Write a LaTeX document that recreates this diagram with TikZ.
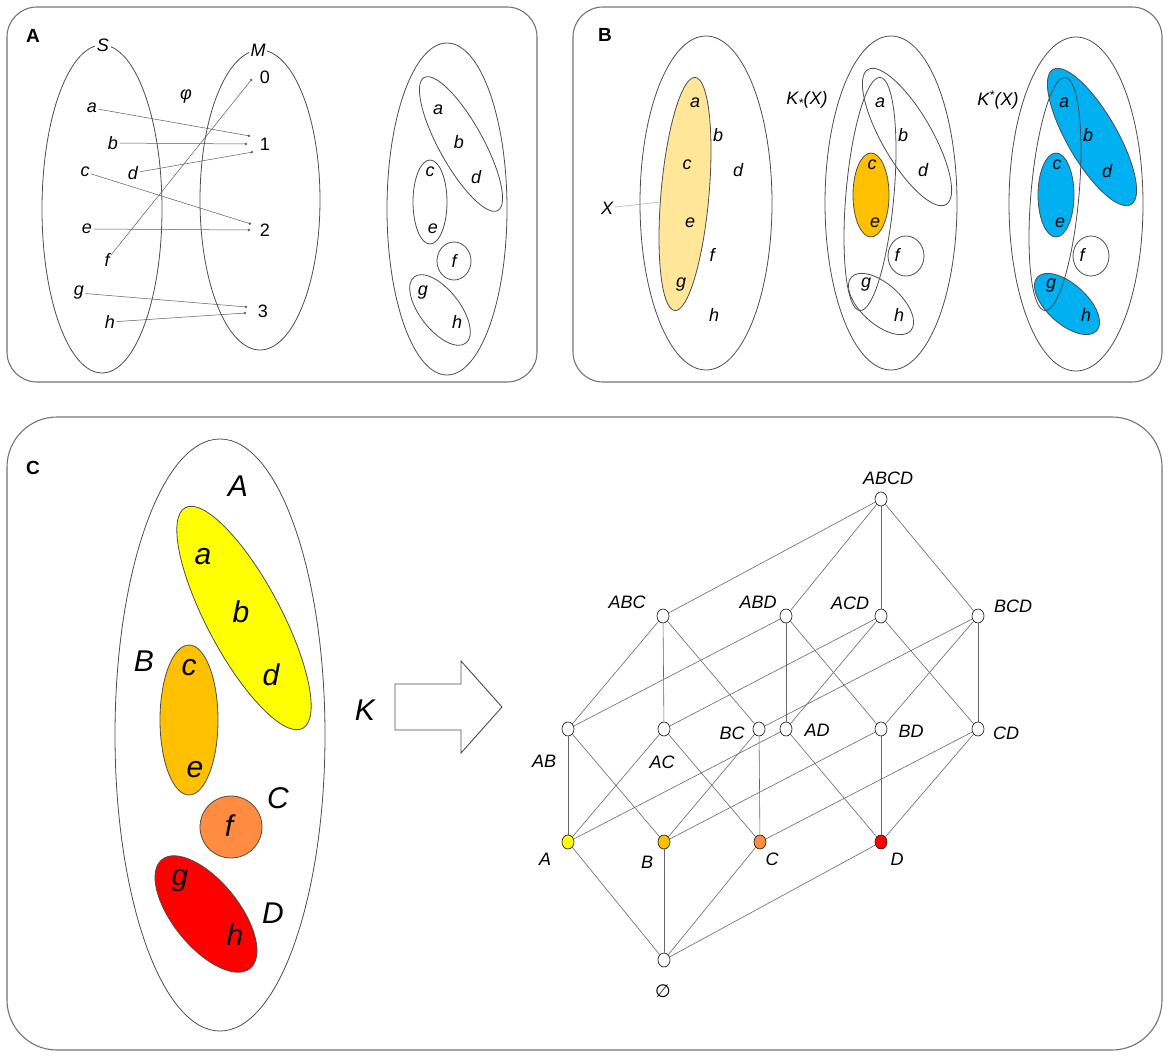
\documentclass[tikz,border=0pt]{standalone}
\usepackage{fontspec}
\setmainfont{Liberation Sans}
\newfontfamily\symfont{DejaVu Sans}
\usepackage{xcolor}
\usepackage{tikz}
\usetikzlibrary{shapes.geometric, arrows.meta}
\definecolor{xfill}{HTML}{FFE699}
\definecolor{lowfill}{HTML}{FFC000}
\definecolor{upfill}{HTML}{00B0F0}
\definecolor{setA}{HTML}{FFFF00}
\definecolor{setB}{HTML}{FFC000}
\definecolor{setC}{HTML}{FF8C40}
\definecolor{setD}{HTML}{FF0000}
\tikzstyle{panel} = [draw=black!55, 
line width=1.1pt, 
rounded corners=30]
\tikzstyle{setline} = [draw=black!70, line width=0.8pt]
\tikzstyle{elem} = [font=\fontsize{18}{21}\selectfont\itshape, 
inner sep=1.5pt]
\tikzstyle{bigelem} = [font=\fontsize{30}{34}\selectfont\itshape, 
inner sep=1pt]
\tikzstyle{lab} = [font=\fontsize{18}{22}\selectfont\itshape, 
inner sep=1pt]
\tikzstyle{num} = [font=\fontsize{18}{21}\selectfont, inner sep=1pt]
\tikzstyle{tag} = [font=\fontsize{19}{22}\selectfont\bfseries]
\tikzstyle{map} = [draw=black!65, line width=0.5pt, -{Circle[length=2.4pt]}]
\tikzstyle{vtx} = [ellipse, 
minimum width=12pt, 
minimum height=14pt, 
inner sep=0pt, 
draw=black!85, 
line width=0.7pt, 
fill=white]
\tikzstyle{edge} = [draw=black!60, line width=0.6pt]

\begin{document}
\begin{tikzpicture}[x=1pt, y=-1pt]
\useasboundingbox (0,0) rectangle (1170,1060);

\draw[panel] (7,7) rectangle (537,382);
\draw[panel] (573,7) rectangle (1162,382);
\draw[panel, rounded corners=50] (7,417) rectangle (1162,1050);
\node[tag] (tagA) at (33,36) {A};
\node[tag] (tagB) at (605,35) {B};
\node[tag] (tagC) at (33,468) {C};

% A: the map from S to M
\draw[setline] (102,209) ellipse [x radius=60, y radius=164];
\draw[setline] (260,200) ellipse [x radius=60, y radius=150];
\node[elem, fill=white] (S) at (103,45) {S};
\node[elem, fill=white] (M) at (258,50) {M};
\node[elem] (phi) at (186,97) {φ};
\node[elem] (sa) at (92,108) {a};
\node[elem] (sb) at (113,143) {b};
\node[elem] (sc) at (85,172) {c};
\node[elem] (sd) at (133,173) {d};
\node[elem] (se) at (87,229) {e};
\node[elem] (sf) at (107,260) {f};
\node[elem] (sg) at (79,293) {g};
\node[elem] (sh) at (110,322) {h};
\node[num] (m0) at (265,77) {0};
\node[num] (m1) at (265,144) {1};
\node[num] (m2) at (265,230) {2};
\node[num] (m3) at (263,311) {3};
\coordinate (pa) at (250,136);
\coordinate (pb) at (247,144);
\coordinate (pd) at (253,152);
\coordinate (pc) at (251,224);
\coordinate (pe) at (250,230);
\coordinate (pf) at (252,79);
\coordinate (pg) at (247,307);
\coordinate (ph) at (246,313);
\draw[map] (sa) -- (pa);
\draw[map] (sb) -- (pb);
\draw[map] (sd) -- (pd);
\draw[map] (sc) -- (pc);
\draw[map] (se) -- (pe);
\draw[map] (sf) -- (pf);
\draw[map] (sg) -- (pg);
\draw[map] (sh) -- (ph);

% A: the partition
\draw[setline] (447,209) ellipse [x radius=60, y radius=166];
\draw[setline, rotate around={-61:(461,144)}] (461,144) ellipse [x radius=76, y radius=22];
\draw[setline] (430,202) ellipse [x radius=17, y radius=42];
\draw[setline] (454,261) ellipse [x radius=17, y radius=19];
\draw[setline, rotate around={-52:(440,310)}] (440,310) ellipse [x radius=42, y radius=20];
\node[elem] (ra) at (438,110) {a};
\node[elem] (rb) at (459,142) {b};
\node[elem] (rd) at (476,177) {d};
\node[elem] (rc) at (430,172) {c};
\node[elem] (re) at (433,229) {e};
\node[elem] (rf) at (454,261) {f};
\node[elem] (rg) at (423,293) {g};
\node[elem] (rh) at (457,322) {h};

% B: X
\draw[setline] (706,203) ellipse [x radius=66, y radius=167];
\draw[setline, fill=xfill, rotate around={-5:(685,194)}] (685,194) ellipse [x radius=24, y radius=117];
\node[elem] (X) at (607,208) {X};
\coordinate (xedge) at (660,202);
\draw[draw=black!35, line width=0.5pt] (X) -- (xedge);
\node[elem] (xa) at (695,103) {a};
\node[elem] (xb) at (718,135) {b};
\node[elem] (xc) at (687,165) {c};
\node[elem] (xd) at (738,170) {d};
\node[elem] (xe) at (690,223) {e};
\node[elem] (xf) at (712,255) {f};
\node[elem] (xg) at (681,285) {g};
\node[elem] (xh) at (714,315) {h};

% B: lower approximation
\draw[setline] (891,203) ellipse [x radius=66, y radius=167];
\draw[setline, fill=lowfill] (871,195) ellipse [x radius=18, y radius=42];
\draw[setline, rotate around={-60:(907,137)}] (907,137) ellipse [x radius=78, y radius=25];
\draw[setline] (906,256) ellipse [x radius=18, y radius=20];
\draw[setline, rotate around={-42:(881,304)}] (881,304) ellipse [x radius=40, y radius=20];
\draw[setline, rotate around={-5:(870,194)}] (870,194) ellipse [x radius=24, y radius=117];
\node[elem] (Klow) at (807,100) {K\textsubscript{*}(X)};
\node[elem] (ka) at (880,103) {a};
\node[elem] (kb) at (903,135) {b};
\node[elem] (kc) at (872,165) {c};
\node[elem] (kd) at (923,170) {d};
\node[elem] (ke) at (875,223) {e};
\node[elem] (kf) at (897,255) {f};
\node[elem] (kg) at (866,285) {g};
\node[elem] (kh) at (899,315) {h};

% B: upper approximation
\draw[setline] (1076,204) ellipse [x radius=67, y radius=167];
\draw[setline, fill=upfill, rotate around={-60:(1092,137)}] (1092,137) ellipse [x radius=78, y radius=25];
\draw[setline, fill=upfill] (1056,195) ellipse [x radius=18, y radius=42];
\draw[setline, fill=upfill, rotate around={-42:(1067,304)}] (1067,304) ellipse [x radius=40, y radius=20];
\draw[setline] (1091,256) ellipse [x radius=18, y radius=20];
\draw[setline, rotate around={-5:(1055,194)}] (1055,194) ellipse [x radius=24, y radius=117];
\node[elem] (Kup) at (998,100) {K\textsuperscript{*}(X)};
\node[elem] (ua) at (1064,103) {a};
\node[elem] (ub) at (1088,135) {b};
\node[elem] (uc) at (1057,165) {c};
\node[elem] (ud) at (1107,171) {d};
\node[elem] (ue) at (1060,223) {e};
\node[elem] (uf) at (1082,255) {f};
\node[elem] (ug) at (1051,286) {g};
\node[elem] (uh) at (1086,315) {h};

% C: the blocks
\draw[setline] (220,735) ellipse [x radius=105, y radius=296];
\draw[setline, fill=setA, rotate around={-62:(244,618)}] (244,618) ellipse [x radius=125, y radius=37];
\draw[setline, fill=setB] (189,720) ellipse [x radius=29, y radius=75];
\draw[setline, fill=setC] (231,827) circle [radius=31];
\draw[setline, fill=setD, rotate around={-51:(206,914)}] (206,914) ellipse [x radius=70, y radius=33];
\node[bigelem] (bA) at (238,486) {A};
\node[bigelem] (ca) at (203,557) {a};
\node[bigelem] (cb) at (241,612) {b};
\node[bigelem] (cd) at (271,675) {d};
\node[bigelem] (bB) at (144,661) {B};
\node[bigelem] (cc) at (189,668) {c};
\node[bigelem] (ce) at (195,770) {e};
\node[bigelem] (cf) at (229,826) {f};
\node[bigelem] (bC) at (278,798) {C};
\node[bigelem] (cg) at (180,881) {g};
\node[bigelem] (ch) at (235,935) {h};
\node[bigelem] (bD) at (273,913) {D};

\node[bigelem] (K) at (365,710) {K};
\draw[setline, line width=0.9pt] (395,684) -- (461,684) -- (461,661) -- (502,707) -- (461,753) -- (461,730) -- (395,730) -- cycle;

% C: the lattice
\node[vtx] (vABCD) at (881,499) {};
\node[vtx] (vABC) at (663,616) {};
\node[vtx] (vABD) at (786,616) {};
\node[vtx] (vACD) at (881,616) {};
\node[vtx] (vBCD) at (978,616) {};
\node[vtx] (vAB) at (568,729) {};
\node[vtx] (vAC) at (664,729) {};
\node[vtx] (vBC) at (759,729) {};
\node[vtx] (vAD) at (786,729) {};
\node[vtx] (vBD) at (881,729) {};
\node[vtx] (vCD) at (978,729) {};
\node[vtx, fill=setA] (vA) at (568,842) {};
\node[vtx, fill=setB] (vB) at (664,842) {};
\node[vtx, fill=setC] (vC) at (760,842) {};
\node[vtx, fill=setD] (vD) at (881,842) {};
\node[vtx] (v0) at (664,960) {};

\node[lab] (tABCD) at (888,478) {ABCD};
\node[lab] (tABC) at (627,602) {ABC};
\node[lab] (tABD) at (758,602) {ABD};
\node[lab] (tACD) at (850,603) {ACD};
\node[lab] (tBCD) at (1013,606) {BCD};
\node[lab] (tAB) at (544,761) {AB};
\node[lab] (tAC) at (662,762) {AC};
\node[lab] (tBC) at (732,733) {BC};
\node[lab] (tAD) at (817,730) {AD};
\node[lab] (tBD) at (911,731) {BD};
\node[lab] (tCD) at (1006,733) {CD};
\node[lab] (tA) at (545,859) {A};
\node[lab] (tB) at (647,862) {B};
\node[lab] (tC) at (772,859) {C};
\node[lab] (tD) at (897,859) {D};
\node[lab] (t0) at (663,991) {\symfont\itshape ∅};

\draw[edge] (vABCD) -- (vABC);
\draw[edge] (vABCD) -- (vABD);
\draw[edge] (vABCD) -- (vACD);
\draw[edge] (vABCD) -- (vBCD);
\draw[edge] (vABC) -- (vAB);
\draw[edge] (vABC) -- (vAC);
\draw[edge] (vABC) -- (vBC);
\draw[edge] (vABD) -- (vAB);
\draw[edge] (vABD) -- (vAD);
\draw[edge] (vABD) -- (vBD);
\draw[edge] (vACD) -- (vAC);
\draw[edge] (vACD) -- (vAD);
\draw[edge] (vACD) -- (vCD);
\draw[edge] (vBCD) -- (vBC);
\draw[edge] (vBCD) -- (vBD);
\draw[edge] (vBCD) -- (vCD);
\draw[edge] (vAB) -- (vA);
\draw[edge] (vAB) -- (vB);
\draw[edge] (vAC) -- (vA);
\draw[edge] (vAC) -- (vC);
\draw[edge] (vAD) -- (vA);
\draw[edge] (vAD) -- (vD);
\draw[edge] (vBC) -- (vB);
\draw[edge] (vBC) -- (vC);
\draw[edge] (vBD) -- (vB);
\draw[edge] (vBD) -- (vD);
\draw[edge] (vCD) -- (vC);
\draw[edge] (vCD) -- (vD);
\draw[edge] (vA) -- (v0);
\draw[edge] (vB) -- (v0);
\draw[edge] (vC) -- (v0);
\draw[edge] (vD) -- (v0);

\end{tikzpicture}
\end{document}
